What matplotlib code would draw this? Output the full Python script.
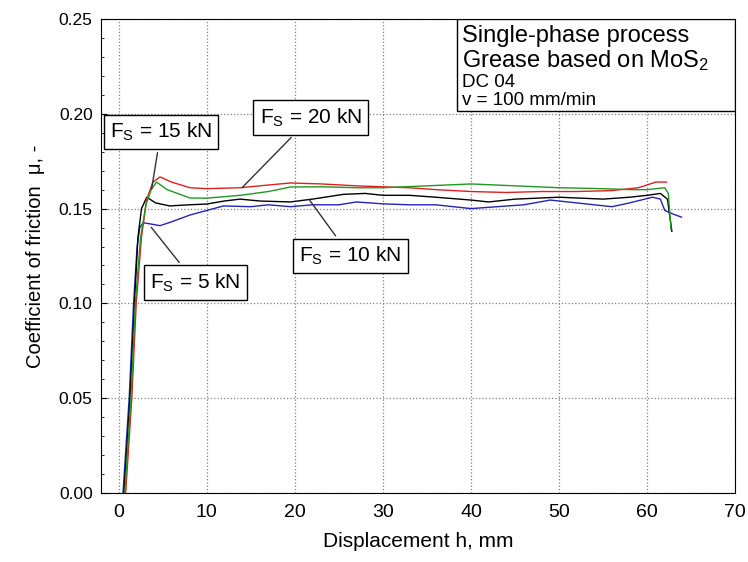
import matplotlib
matplotlib.use("Agg")
import matplotlib.pyplot as plt
from matplotlib.patches import Rectangle
from matplotlib.ticker import MultipleLocator

plt.rcParams['font.family'] = ['Liberation Sans', 'DejaVu Sans']
plt.rcParams['mathtext.fontset'] = 'custom'
plt.rcParams['mathtext.rm'] = 'Liberation Sans'
plt.rcParams['mathtext.it'] = 'Liberation Sans'

# --- data (displacement in mm, coefficient of friction) ---
x_5kN = [0.5, 1.2, 1.7, 2.1, 2.4, 2.8, 3.5, 4.7, 6, 8.1, 10, 11.9, 15, 17, 19.5, 22, 25, 27,
         30, 33, 36, 40, 43, 46, 49, 52, 56, 58, 60.6, 61.5, 62, 63, 63.9]
mu_5kN = [0.0, 0.05, 0.10, 0.13, 0.14, 0.1425, 0.142, 0.141, 0.143, 0.1466, 0.149, 0.1514, 0.151,
          0.152, 0.151, 0.152, 0.152, 0.1535, 0.1525, 0.152, 0.152, 0.150, 0.151, 0.152, 0.1545,
          0.153, 0.151, 0.153, 0.156, 0.155, 0.149, 0.147, 0.1455]

x_10kN = [0.6, 1.3, 1.8, 2.2, 2.6, 3.2, 4.2, 5.8, 8, 10, 12, 13.8, 16, 19.5, 22, 25.5, 28, 30,
          33, 36, 40, 42, 45, 50, 55, 58, 60, 61.5, 62.3, 62.8]
mu_10kN = [0.0, 0.05, 0.10, 0.135, 0.150, 0.156, 0.153, 0.1514, 0.152, 0.1524, 0.154, 0.155,
           0.154, 0.1535, 0.155, 0.1575, 0.158, 0.157, 0.157, 0.156, 0.1545, 0.1535, 0.155,
           0.156, 0.155, 0.156, 0.157, 0.158, 0.155, 0.138]

x_15kN = [0.8, 1.5, 2.0, 2.6, 3.2, 3.9, 4.7, 6, 8.1, 10, 13.8, 16, 19.5, 23, 27, 30, 33, 36,
          40, 44, 48, 52, 56, 59, 61, 62.2]
mu_15kN = [0.0, 0.05, 0.10, 0.135, 0.155, 0.164, 0.1667, 0.164, 0.161, 0.1605, 0.161, 0.162,
           0.1635, 0.163, 0.162, 0.1615, 0.161, 0.160, 0.159, 0.1585, 0.159, 0.159, 0.1595,
           0.161, 0.164, 0.164]

x_20kN = [0.7, 1.4, 1.9, 2.5, 3.1, 3.7, 4.3, 5.5, 8.1, 10, 13.8, 17, 19.5, 23, 27, 30, 35, 40,
          45, 50, 55, 58, 60, 62, 62.4, 62.7]
mu_20kN = [0.0, 0.05, 0.10, 0.135, 0.152, 0.160, 0.164, 0.160, 0.1556, 0.1555, 0.157, 0.159,
           0.1614, 0.1615, 0.161, 0.161, 0.162, 0.163, 0.162, 0.161, 0.1605, 0.160, 0.160,
           0.161, 0.158, 0.139]

labels = [r'F$_\mathrm{S}$ = 5 kN', r'F$_\mathrm{S}$ = 10 kN',
          r'F$_\mathrm{S}$ = 15 kN', r'F$_\mathrm{S}$ = 20 kN']

fig = plt.figure(figsize=(7.48, 5.62), dpi=100)
ax = fig.add_axes([0.135, 0.1228, 0.848, 0.8434])

ax.plot(x_5kN, mu_5kN, color='#2424b8', lw=1.0)
ax.plot(x_10kN, mu_10kN, color='black', lw=1.0)
ax.plot(x_15kN, mu_15kN, color='#e02020', lw=1.0)
ax.plot(x_20kN, mu_20kN, color='#1f9a1f', lw=1.0)

ax.set_xlim(-2, 70)
ax.set_ylim(0, 0.25)
ax.xaxis.set_major_locator(MultipleLocator(10))
ax.yaxis.set_major_locator(MultipleLocator(0.05))
ax.yaxis.set_minor_locator(MultipleLocator(0.01))
ax.yaxis.set_major_formatter(matplotlib.ticker.FormatStrFormatter('%.2f'))
ax.tick_params(axis='both', which='both', direction='in')
ax.tick_params(axis='x', labelsize=14, length=0, pad=8)
ax.tick_params(axis='y', labelsize=12.5, length=4, pad=6)
ax.tick_params(axis='y', which='minor', length=2)
ax.grid(True, color='#808080', linestyle=':', linewidth=0.9)

ax.set_xlabel('Displacement h, mm', fontsize=15, labelpad=8)
ax.set_ylabel(r'Coefficient of friction  μ, -', fontsize=14.5, labelpad=10)

box = dict(boxstyle='square,pad=0.3', fc='white', ec='black', lw=1.0)
arrow = dict(arrowstyle='-', color='#333333', lw=1.0)
ax.annotate(labels[0], xy=(3.5, 0.1413), xytext=(8.7, 0.111), fontsize=15,
            ha='center', va='center', bbox=box, arrowprops=arrow)
ax.annotate(labels[1], xy=(21.5, 0.1556), xytext=(26.3, 0.125), fontsize=15,
            ha='center', va='center', bbox=box, arrowprops=arrow)
ax.annotate(labels[2], xy=(3.7, 0.159), xytext=(4.8, 0.1904), fontsize=15,
            ha='center', va='center', bbox=box, arrowprops=arrow)
ax.annotate(labels[3], xy=(13.8, 0.160), xytext=(21.8, 0.198), fontsize=15,
            ha='center', va='center', bbox=box, arrowprops=arrow)

# info box in upper right
ax.add_patch(Rectangle((0.5615, 0.806), 0.4385, 0.194, transform=ax.transAxes,
                       fc='white', ec='black', lw=1.0, zorder=5))
ax.text(0.569, 0.964, 'Single-phase process', transform=ax.transAxes, fontsize=17,
        va='center', ha='left', zorder=6)
ax.text(0.569, 0.912, r'Grease based on MoS$_2$', transform=ax.transAxes, fontsize=17,
        va='center', ha='left', zorder=6)
ax.text(0.569, 0.866, 'DC 04', transform=ax.transAxes, fontsize=13.5,
        va='center', ha='left', zorder=6)
ax.text(0.569, 0.829, 'v = 100 mm/min', transform=ax.transAxes, fontsize=13.5,
        va='center', ha='left', zorder=6)

fig.savefig('out.png', dpi=100)
